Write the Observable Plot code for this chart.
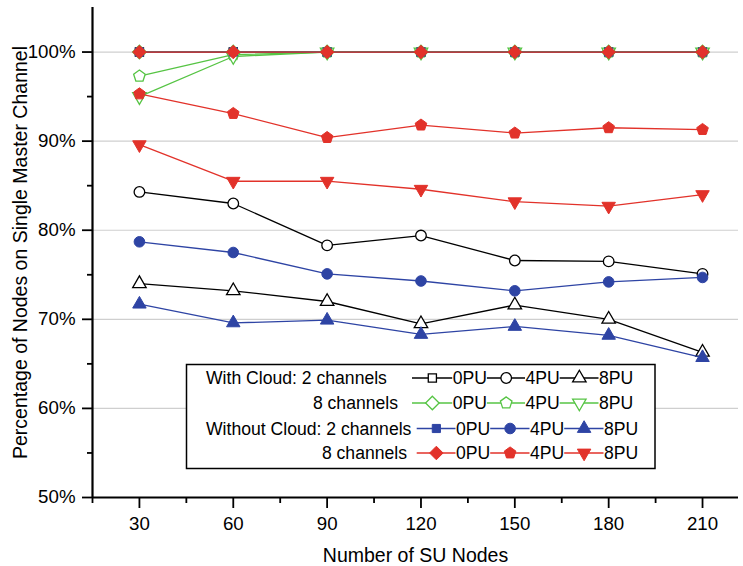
<!DOCTYPE html>
<html><head><meta charset="utf-8">
<script src="https://cdn.jsdelivr.net/npm/d3@7"></script>
<script src="https://cdn.jsdelivr.net/npm/@observablehq/plot@0.6"></script>
<style>
body{margin:0;background:#fff;}
#wrap{position:relative;width:743px;height:566px;font-family:"Liberation Sans",Arial,sans-serif;}
#wrap svg{position:absolute;left:0;top:0;overflow:visible;}
</style></head><body><div id="wrap"></div>
<script>
// ---- data ----
const nodes = [30, 60, 90, 120, 150, 180, 210];
// With Cloud, 2 channels
const wc2_0pu = [100, 100, 100, 100, 100, 100, 100];
const wc2_4pu = [84.3, 83.0, 78.3, 79.4, 76.6, 76.5, 75.1];
const wc2_8pu = [74.0, 73.2, 72.0, 69.5, 71.6, 70.0, 66.3];
// With Cloud, 8 channels
const wc8_0pu = [100, 100, 100, 100, 100, 100, 100];
const wc8_4pu = [97.3, 99.7, 100, 100, 100, 100, 100];
const wc8_8pu = [95.0, 99.5, 100, 100, 100, 100, 100];
// Without Cloud, 2 channels
const woc2_0pu = [100, 100, 100, 100, 100, 100, 100];
const woc2_4pu = [78.7, 77.5, 75.1, 74.3, 73.2, 74.2, 74.7];
const woc2_8pu = [71.7, 69.6, 69.9, 68.3, 69.2, 68.2, 65.7];
// Without Cloud, 8 channels
const woc8_0pu = [100, 100, 100, 100, 100, 100, 100];
const woc8_4pu = [95.3, 93.1, 90.4, 91.8, 90.9, 91.5, 91.3];
const woc8_8pu = [89.6, 85.5, 85.5, 84.6, 83.2, 82.7, 84.0];

const yTicks = [50, 60, 70, 80, 90, 100];
const yMinorTicks = [55, 65, 75, 85, 95];
const xMinorTicks = [15, 45, 75, 105, 135, 165, 195];
const xDomain = [15, 221.5];
const yDomain = [50, 105];
const xTitle = "Number of SU Nodes";
const yTitle = "Percentage of Nodes on Single Master Channel";
const groupLabels = ["With Cloud: 2 channels", "8 channels", "Without Cloud: 2 channels", "8 channels"];
const puLabels = ["0PU", "4PU", "8PU"];

// ---- symbols ----
const pentagon = {draw(ctx, size) {
  const R = Math.sqrt(size / 2.3776);
  for (let k = 0; k < 5; k++) {
    const a = -Math.PI / 2 + k * 2 * Math.PI / 5;
    const px = R * Math.cos(a), py = R * Math.sin(a);
    k ? ctx.lineTo(px, py) : ctx.moveTo(px, py);
  }
  ctx.closePath();
}};
const triDown = {draw(ctx, size) {
  const y = -Math.sqrt(size / (Math.sqrt(3) * 3));
  ctx.moveTo(0, -y * 2);
  ctx.lineTo(-Math.sqrt(3) * y, y);
  ctx.lineTo(Math.sqrt(3) * y, y);
  ctx.closePath();
}};
const triUp = {draw(ctx, size) {
  const y = -Math.sqrt(size / (Math.sqrt(3) * 3));
  ctx.moveTo(0, y * 2);
  ctx.lineTo(-Math.sqrt(3) * y, -y);
  ctx.lineTo(Math.sqrt(3) * y, -y);
  ctx.closePath();
}};
const rhombus = {draw(ctx, size) {
  const r = Math.sqrt(size / 2);
  ctx.moveTo(0, -r); ctx.lineTo(r, 0); ctx.lineTo(0, r); ctx.lineTo(-r, 0); ctx.closePath();
}};
const square = {draw(ctx, size) {
  const h = Math.sqrt(size) / 2;
  ctx.rect(-h, -h, 2 * h, 2 * h);
}};
const circle = {draw(ctx, size) {
  const r = Math.sqrt(size / Math.PI);
  ctx.moveTo(r, 0); ctx.arc(0, 0, r, 0, 2 * Math.PI);
}};

const BLACK = "#000000", GREEN = "#56c444", BLUE = "#2e44a4", RED = "#e2322a";
const shapes = [
  {sym: square, r: 4.6}, {sym: circle, r: 5.3}, {sym: triUp, r: 5.0}
];
const shapes8 = [
  {sym: rhombus, r: 5.4}, {sym: pentagon, r: 5.3}, {sym: triDown, r: 5.0}
];
const groups = [
  {color: BLACK, filled: false, shp: shapes, vals: [wc2_0pu, wc2_4pu, wc2_8pu]},
  {color: GREEN, filled: false, shp: shapes8, vals: [wc8_0pu, wc8_4pu, wc8_8pu]},
  {color: BLUE, filled: true, shp: shapes, vals: [woc2_0pu, woc2_4pu, woc2_8pu]},
  {color: RED, filled: true, shp: shapes8, vals: [woc8_0pu, woc8_4pu, woc8_8pu]}
];

const seriesMarks = [];
for (const g of groups) {
  g.vals.forEach((vals, i) => {
    const data = nodes.map((n, j) => ({x: n, y: vals[j]}));
    seriesMarks.push(Plot.line(data, {x: "x", y: "y", stroke: g.color, strokeWidth: 1.3}));
    seriesMarks.push(Plot.dot(data, {x: "x", y: "y", symbol: g.shp[i].sym, r: g.shp[i].r,
      fill: g.filled ? g.color : "#ffffff", stroke: g.color, strokeWidth: g.filled ? 1 : 1.3}));
  });
}

const FS = 18.7;
const chart = Plot.plot({
  width: 743, height: 566,
  marginLeft: 92, marginRight: 5, marginTop: 7, marginBottom: 69,
  style: {fontFamily: '"Liberation Sans", Arial, sans-serif', background: "transparent"},
  x: {type: "linear", domain: xDomain, label: null},
  y: {domain: yDomain, label: null},
  marks: [
    Plot.gridY(yTicks, {stroke: "#cfcfcf", strokeOpacity: 1, strokeWidth: 1.2}),
    Plot.axisY(yTicks, {tickSize: 10, tickPadding: 7, tickFormat: d => d + "%", fontSize: FS, strokeWidth: 1.8, color: "#000", label: null}),
    Plot.axisY(yMinorTicks, {tickSize: 5, tickFormat: () => "", strokeWidth: 1.8, label: null}),
    Plot.axisX(nodes, {tickSize: 11, tickPadding: 8, fontSize: FS, strokeWidth: 1.8, label: null}),
    Plot.axisX(xMinorTicks, {tickSize: 6, tickFormat: () => "", strokeWidth: 1.8, label: null}),
    ...seriesMarks,
    Plot.ruleX([xDomain[0]], {stroke: "#000", strokeWidth: 2.2}),
    Plot.ruleY([yDomain[0]], {stroke: "#000", strokeWidth: 2.2}),
    Plot.text([xTitle], {frameAnchor: "bottom", lineAnchor: "bottom", dy: 64.5, fontSize: 19.5, fill: "#000"}),
    Plot.text([yTitle], {frameAnchor: "left", rotate: -90, textAnchor: "middle", lineAnchor: "bottom", dx: -66, fontSize: 19.5, fill: "#000"})
  ]
});
const wrap = document.getElementById("wrap");
wrap.appendChild(chart);

// ---- legend overlay ----
const lg = d3.select(wrap).append("svg").attr("width", 743).attr("height", 566)
  .style("font-family", '"Liberation Sans", Arial, sans-serif').style("pointer-events", "none");
lg.append("rect").attr("x", 186.5).attr("y", 364.5).attr("width", 468.5).attr("height", 104)
  .attr("fill", "#fff").attr("stroke", "#000").attr("stroke-width", 1.5);
const rowY = [378, 403, 428.5, 453];
const labelPos = [{x: 206, anchor: "start"}, {x: 398, anchor: "end"}, {x: 206, anchor: "start"}, {x: 407, anchor: "end"}];
const textStarts = [[452.7, 525.5, 599], [452.7, 525.5, 599], [456, 530, 604], [456, 530, 604]];
const lineStart = [412, 412, 416.7, 416.7];
const LFS = 17.6;
groups.forEach((g, row) => {
  const y = rowY[row];
  lg.append("text").attr("x", labelPos[row].x).attr("y", y).attr("dy", "0.36em")
    .attr("text-anchor", labelPos[row].anchor).attr("font-size", LFS).attr("fill", "#000").text(groupLabels[row]);
  let prev = lineStart[row];
  textStarts[row].forEach((ts, i) => {
    lg.append("line").attr("x1", prev).attr("x2", ts - 0.5).attr("y1", y).attr("y2", y)
      .attr("stroke", g.color).attr("stroke-width", 1.3);
    const cx = (prev + ts) / 2;
    lg.append("path").attr("transform", `translate(${cx},${y})`)
      .attr("d", d3.symbol(g.shp[i].sym, Math.PI * g.shp[i].r * g.shp[i].r)())
      .attr("fill", g.filled ? g.color : "#fff").attr("stroke", g.color).attr("stroke-width", g.filled ? 1 : 1.3);
    lg.append("text").attr("x", ts).attr("y", y).attr("dy", "0.36em").attr("font-size", LFS).attr("fill", "#000").text(puLabels[i]);
    prev = ts + 34.2;
  });
});
</script></body></html>
